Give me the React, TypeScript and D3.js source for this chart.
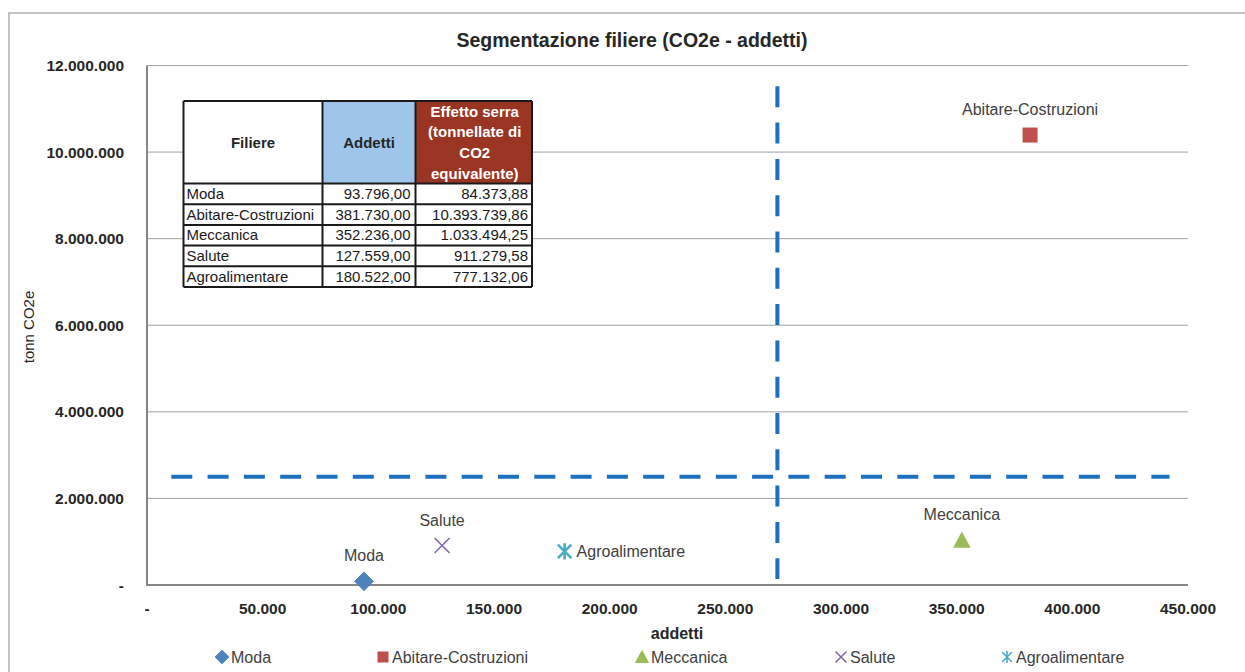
import React from "react";
import * as d3 from "d3";

const filiere = ["Moda", "Abitare-Costruzioni", "Meccanica", "Salute", "Agroalimentare"];
const addetti = [93796, 381730, 352236, 127559, 180522];
const co2 = [84373.88, 10393739.86, 1033494.25, 911279.58, 777132.06];
const colors = ["#4f81bd", "#c0504d", "#9bbb59", "#8064a2", "#4bacc6"];
const xTicks = [0, 50000, 100000, 150000, 200000, 250000, 300000, 350000, 400000, 450000];
const yTicks = [0, 2000000, 4000000, 6000000, 8000000, 10000000, 12000000];
const sogliaAddetti = 272500;
const sogliaCo2 = 2500000;
const hLineX = [10500, 442000];
const vLineY = [140000, 11520000];

const it = d3.formatLocale({ decimal: ",", thousands: ".", grouping: [3], currency: ["€", ""] });
const fInt = it.format(",.0f");
const f2 = it.format(",.2f");

const W = 1245, H = 672;
const M = { left: 147, right: 1188, top: 65.5, bottom: 585 };
const FONT = "'Liberation Sans', Arial, sans-serif";

function Marker({ i, cx, cy, s, sw }: { i: number; cx: number; cy: number; s: number; sw?: number }) {
  const c = colors[i];
  if (i === 0) {
    const r = s * 0.62;
    return <path d={`M${cx},${cy - r}L${cx + r},${cy}L${cx},${cy + r}L${cx - r},${cy}Z`} fill={c} stroke={c} strokeWidth={1} strokeLinejoin="round" />;
  }
  if (i === 1) {
    const r = s * 0.5;
    return <rect x={cx - r} y={cy - r} width={2 * r} height={2 * r} fill={c} />;
  }
  if (i === 2) {
    const r = s * 0.55;
    return <path d={`M${cx},${cy - r}L${cx + r},${cy + r * 0.85}L${cx - r},${cy + r * 0.85}Z`} fill={c} />;
  }
  if (i === 3) {
    const r = s * 0.5;
    return <path d={`M${cx - r},${cy - r}L${cx + r},${cy + r}M${cx + r},${cy - r}L${cx - r},${cy + r}`} stroke={c} strokeWidth={1.5} fill="none" />;
  }
  const r = s * 0.45;
  return (
    <path
      d={`M${cx - r},${cy - r}L${cx + r},${cy + r}M${cx + r},${cy - r}L${cx - r},${cy + r}M${cx},${cy - r * 1.2}L${cx},${cy + r * 1.2}`}
      stroke={c}
      strokeWidth={sw ?? 2.6}
      fill="none"
    />
  );
}

export default function App() {
  const x = d3.scaleLinear().domain([0, 450000]).range([M.left, M.right]);
  const y = d3.scaleLinear().domain([0, 12000000]).range([M.bottom, M.top]);

  // table geometry
  const tx = [183.5, 322.5, 415.5, 532];
  const headTop = 101, headBot = 183.5, rowH = 20.7;

  const legendX = [222, 383, 642, 841, 1007];
  const labelAbove = [true, true, true, true, false];

  return (
    <svg width={W} height={H} style={{ position: "absolute", left: 0, top: 0, background: "#fff" }} fontFamily={FONT}>
      <rect x={9} y={13} width={1240} height={680} fill="#fff" stroke="#a6a6a6" strokeWidth={1.3} />
      <text x={632} y={47} textAnchor="middle" fontSize={19.5} fontWeight="bold" fill="#262626">
        Segmentazione filiere (CO2e - addetti)
      </text>

      {/* gridlines */}
      {yTicks.filter((t) => t > 0).map((t) => (
        <line key={t} x1={M.left} x2={M.right} y1={y(t)} y2={y(t)} stroke="#a0a0a0" strokeWidth={1} />
      ))}
      {/* axes */}
      <line x1={M.left} x2={M.left} y1={y(12000000)} y2={M.bottom} stroke="#868686" strokeWidth={2} />
      <line x1={M.left - 1} x2={M.right} y1={M.bottom} y2={M.bottom} stroke="#868686" strokeWidth={2} />

      {yTicks.map((t) => (
        <text key={t} x={124} y={y(t) + 5.5} textAnchor="end" fontSize={15.5} fontWeight="bold" fill="#262626">
          {t === 0 ? "-" : fInt(t)}
        </text>
      ))}
      {xTicks.map((t) => (
        <text key={t} x={x(t)} y={614} textAnchor="middle" fontSize={15.5} fontWeight="bold" fill="#262626">
          {t === 0 ? "-" : fInt(t)}
        </text>
      ))}
      <text x={677} y={639} textAnchor="middle" fontSize={16} fontWeight="bold" fill="#262626">addetti</text>
      <text transform={`translate(34,${327}) rotate(-90)`} textAnchor="middle" fontSize={15} fill="#262626">tonn CO2e</text>

      {/* threshold dashed lines */}
      <line x1={x(hLineX[0])} x2={x(hLineX[1])} y1={y(sogliaCo2)} y2={y(sogliaCo2)} stroke="#1f6fbf" strokeWidth={4} strokeDasharray="21 15.3" />
      <line x1={x(sogliaAddetti)} x2={x(sogliaAddetti)} y1={y(vLineY[1])} y2={y(vLineY[0])} stroke="#1f6fbf" strokeWidth={4} strokeDasharray="21 15.3" />

      {/* points */}
      {filiere.map((n, i) => {
        const cx = x(addetti[i]), cy = y(co2[i]);
        return (
          <g key={n}>
            <Marker i={i} cx={cx} cy={cy} s={i === 2 ? 16 : 15} />
            {labelAbove[i] ? (
              <text x={cx} y={cy - 20} textAnchor="middle" fontSize={16} fill="#404040">{n}</text>
            ) : (
              <text x={cx + 12} y={cy + 6} textAnchor="start" fontSize={16} fill="#404040">{n}</text>
            )}
          </g>
        );
      })}

      {/* table */}
      <g>
        <rect x={tx[1]} y={headTop} width={tx[2] - tx[1]} height={headBot - headTop} fill="#9fc6ea" />
        <rect x={tx[2]} y={headTop} width={tx[3] - tx[2]} height={headBot - headTop} fill="#9a3423" />
        <rect x={tx[0]} y={headTop + 0} width={tx[1] - tx[0]} height={headBot - headTop} fill="#fff" />
        {filiere.map((n, i) => (
          <rect key={n} x={tx[0]} y={headBot + i * rowH} width={tx[3] - tx[0]} height={rowH} fill="#fff" />
        ))}
        <text x={(tx[0] + tx[1]) / 2} y={147.5} textAnchor="middle" fontSize={15} fontWeight="bold" fill="#262626">Filiere</text>
        <text x={(tx[1] + tx[2]) / 2} y={147.5} textAnchor="middle" fontSize={15} fontWeight="bold" fill="#262626">Addetti</text>
        {["Effetto serra", "(tonnellate di", "CO2", "equivalente)"].map((s, k) => (
          <text key={s} x={(tx[2] + tx[3]) / 2 + 1} y={116.5 + k * 20.8} textAnchor="middle" fontSize={15} fontWeight="bold" fill="#fff">{s}</text>
        ))}
        {filiere.map((n, i) => {
          const yy = headBot + i * rowH + 15.5;
          return (
            <g key={n} fontSize={15} fill="#1a1a1a">
              <text x={tx[0] + 3} y={yy}>{n}</text>
              <text x={tx[2] - 5} y={yy} textAnchor="end">{f2(addetti[i])}</text>
              <text x={tx[3] - 4} y={yy} textAnchor="end">{f2(co2[i])}</text>
            </g>
          );
        })}
        {/* borders */}
        {[headTop, headBot, ...filiere.map((_, i) => headBot + (i + 1) * rowH)].map((yy, k) => (
          <line key={k} x1={tx[0]} x2={tx[3]} y1={yy} y2={yy} stroke="#1a1a1a" strokeWidth={2} />
        ))}
        {tx.map((xx, k) => (
          <line key={k} x1={xx} x2={xx} y1={headTop} y2={headBot + filiere.length * rowH} stroke="#1a1a1a" strokeWidth={2} />
        ))}
      </g>

      {/* legend */}
      {filiere.map((n, i) => (
        <g key={n}>
          <Marker i={i} cx={legendX[i]} cy={657} s={i === 2 ? 13 : 11} sw={1.6} />
          <text x={legendX[i] + 9} y={663} fontSize={16} fill="#404040">{n}</text>
        </g>
      ))}
    </svg>
  );
}
